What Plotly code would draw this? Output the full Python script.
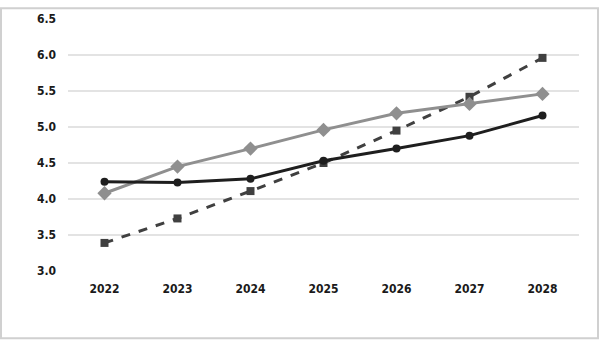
import plotly.graph_objects as go

years = ["2022", "2023", "2024", "2025", "2026", "2027", "2028"]
series_black = [4.24, 4.23, 4.28, 4.53, 4.70, 4.88, 5.16]
series_gray = [4.08, 4.45, 4.70, 4.96, 5.19, 5.32, 5.46]
series_dash = [3.39, 3.73, 4.11, 4.50, 4.95, 5.42, 5.96]
y_tickvals = [3.0, 3.5, 4.0, 4.5, 5.0, 5.5, 6.0, 6.5]
y_ticktext = ["3.0", "3.5", "4.0", "4.5", "5.0", "5.5", "6.0", "6.5"]

font_family = "DejaVu Sans Condensed, Liberation Sans Narrow, sans-serif"

fig = go.Figure()
fig.add_trace(go.Scatter(
    x=years, y=series_dash, mode="lines+markers",
    line=dict(color="#404040", width=3, dash="dash"),
    marker=dict(symbol="square", size=8, color="#404040"),
    showlegend=False))
fig.add_trace(go.Scatter(
    x=years, y=series_gray, mode="lines+markers",
    line=dict(color="#8f8f8f", width=3),
    marker=dict(symbol="diamond", size=11, color="#8f8f8f"),
    showlegend=False))
fig.add_trace(go.Scatter(
    x=years, y=series_black, mode="lines+markers",
    line=dict(color="#1e1e1e", width=3),
    marker=dict(symbol="circle", size=8, color="#1e1e1e"),
    showlegend=False))

fig.update_layout(
    width=600, height=342,
    margin=dict(l=68, r=21, t=12, b=71),
    paper_bgcolor="white", plot_bgcolor="white",
    font=dict(family=font_family, size=12, color="#1a1a1a", weight="bold"),
    xaxis=dict(type="category", range=[-0.5, 6.5], showgrid=False, showline=False,
               zeroline=False, ticks="", ticklabelstandoff=9),
    yaxis=dict(range=[3.0, 6.5], tickvals=y_tickvals, ticktext=y_ticktext,
               showgrid=True, gridcolor="#e3e3e3", gridwidth=1.5,
               zeroline=False, showline=False, ticks="", ticklabelstandoff=11),
    shapes=[dict(type="rect", xref="paper", yref="paper",
                 x0=-67/511, x1=1 + 19/511, y0=-69/259, y1=1 + 11/259,
                 line=dict(color="#d0d0d0", width=2))],
)

fig.write_html("out.html")
